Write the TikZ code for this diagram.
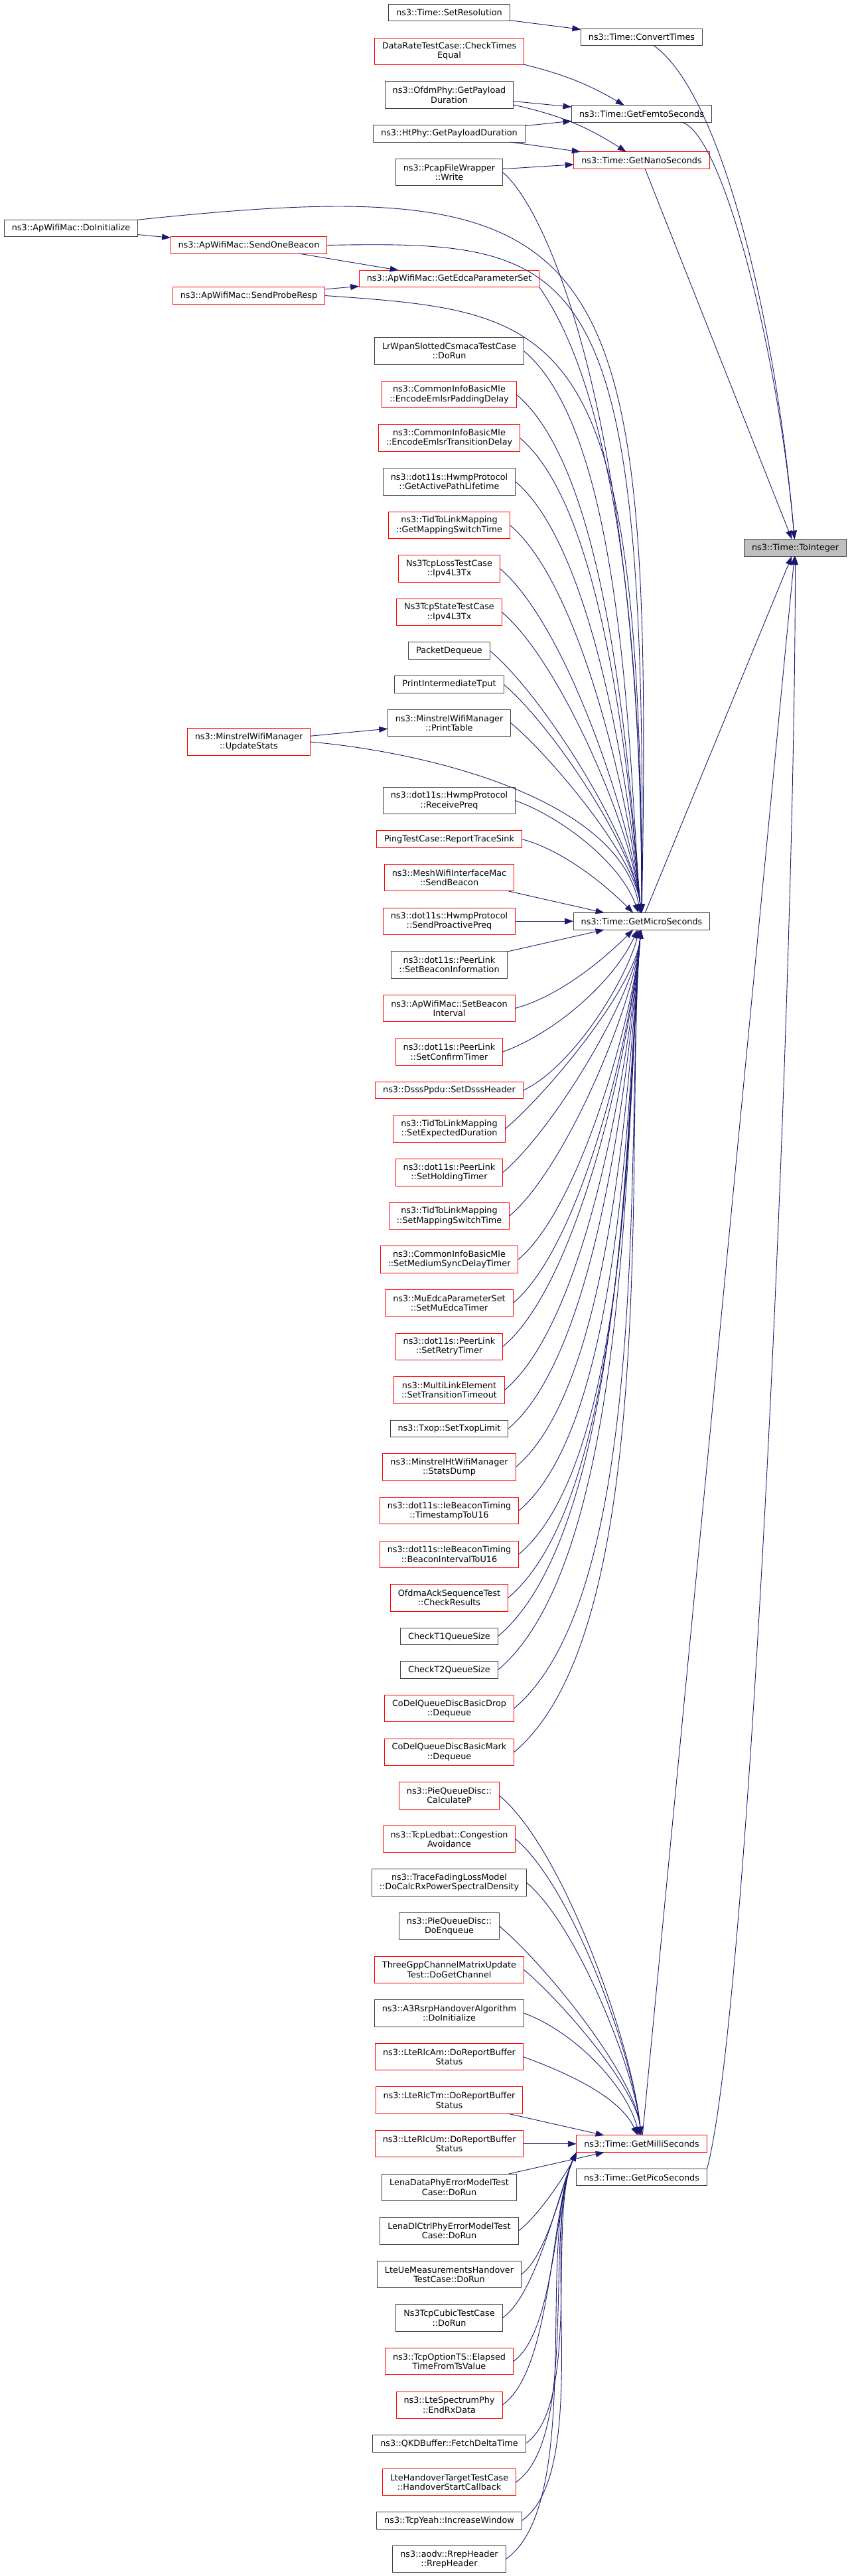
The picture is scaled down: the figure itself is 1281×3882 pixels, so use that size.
\documentclass[tikz,border=0pt]{standalone}
\usepackage{fontspec}
\setmainfont{DejaVu Sans}
\usetikzlibrary{positioning,arrows.meta}
\definecolor{callblue}{HTML}{191970}
\definecolor{boxline}{HTML}{404040}
\newcommand{\boxfont}{\fontsize{3.2}{3.575}\selectfont}
\tikzset{every node/.style={shape=rectangle, draw=boxline, line width=0.25pt, outer sep=0pt, inner xsep=2.875pt, inner ysep=0.25pt, minimum height=6.375pt, align=center, font=\boxfont}}
\tikzset{every edge/.style={draw=callblue, line width=0.225pt, -{Triangle[length=3.25pt,width=2.25pt]}}}
\tikzset{tall/.style={minimum height=10.125pt}}
\tikzset{trunc/.style={draw=red}}
\tikzset{fromabove/.style={out=-40,in=95,looseness=0.6}}
\tikzset{frombelow/.style={out=40,in=-95,looseness=0.6}}
\tikzset{tomilli/.style={out=35,in=-115,looseness=0.6}}
\begin{document}
\begin{tikzpicture}[x=0.25pt, y=0.25pt]
  \useasboundingbox (0,0) rectangle (1281,-3882);

  % callers of the femto / nano group
  \node (SR) at (677,-19) {ns3::Time::SetResolution};
  \node[trunc,tall] (CT) [below=6.325pt of SR] {DataRateTestCase::CheckTimes\\Equal};
  \node[tall] (OP) [below=6.325pt of CT] {ns3::OfdmPhy::GetPayload\\Duration};
  \node (HP) [below=6.325pt of OP] {ns3::HtPhy::GetPayloadDuration};
  \node[tall] (PW) [below=6.325pt of HP] {ns3::PcapFileWrapper\\::Write};

  \node (CV) at (967,-56) {ns3::Time::ConvertTimes};
  \node (FS) at (967,-171.5) {ns3::Time::GetFemtoSeconds};
  \node[trunc] (NS) at (967,-241.5) {ns3::Time::GetNanoSeconds};

  \node (DI) at (107,-344) {ns3::ApWifiMac::DoInitialize};
  \node[trunc] (SB) at (375,-369.5) {ns3::ApWifiMac::SendOneBeacon};
  \node[trunc] (EP) at (677,-420) {ns3::ApWifiMac::GetEdcaParameterSet};
  \node[trunc] (PR) at (375,-445.5) {ns3::ApWifiMac::SendProbeResp};

  \node[fill=black!25] (TI) at (1198.5,-825.5) {ns3::Time::ToInteger};

  % first column block
  \node[tall] (LR) at (677,-529) {LrWpanSlottedCsmacaTestCase\\::DoRun};
  \node[trunc,tall] (PY) [below=6.275pt of LR] {ns3::CommonInfoBasicMle\\::EncodeEmlsrPaddingDelay};
  \node[trunc,tall] (TY) [below=6.275pt of PY] {ns3::CommonInfoBasicMle\\::EncodeEmlsrTransitionDelay};
  \node[tall] (AL) [below=6.275pt of TY] {ns3::dot11s::HwmpProtocol\\::GetActivePathLifetime};
  \node[trunc,tall] (GW) [below=6.275pt of AL] {ns3::TidToLinkMapping\\::GetMappingSwitchTime};
  \node[trunc,tall] (LX) [below=6.275pt of GW] {Ns3TcpLossTestCase\\::Ipv4L3Tx};
  \node[trunc,tall] (SX) [below=6.275pt of LX] {Ns3TcpStateTestCase\\::Ipv4L3Tx};
  \node (PQ) [below=6.275pt of SX] {PacketDequeue};
  \node (IT) [below=6.275pt of PQ] {PrintIntermediateTput};
  \node[tall] (PT) [below=6.275pt of IT] {ns3::MinstrelWifiManager\\::PrintTable};
  \node[trunc,tall] (US) at (375,-1118) {ns3::MinstrelWifiManager\\::UpdateStats};

  % second column block
  \node[tall] (RP) at (677,-1206.5) {ns3::dot11s::HwmpProtocol\\::ReceivePreq};
  \node[trunc] (PG) [below=6.275pt of RP] {PingTestCase::ReportTraceSink};
  \node[trunc,tall] (MB) [below=6.275pt of PG] {ns3::MeshWifiInterfaceMac\\::SendBeacon};
  \node[trunc,tall] (PP) [below=6.275pt of MB] {ns3::dot11s::HwmpProtocol\\::SendProactivePreq};
  \node[tall] (BI) [below=6.275pt of PP] {ns3::dot11s::PeerLink\\::SetBeaconInformation};
  \node[trunc,tall] (BV) [below=6.275pt of BI] {ns3::ApWifiMac::SetBeacon\\Interval};
  \node[trunc,tall] (CF) [below=6.275pt of BV] {ns3::dot11s::PeerLink\\::SetConfirmTimer};
  \node[trunc] (DH) [below=6.275pt of CF] {ns3::DsssPpdu::SetDsssHeader};
  \node[trunc,tall] (ED) [below=6.275pt of DH] {ns3::TidToLinkMapping\\::SetExpectedDuration};
  \node[trunc,tall] (HT) [below=6.275pt of ED] {ns3::dot11s::PeerLink\\::SetHoldingTimer};
  \node[trunc,tall] (SW) [below=6.275pt of HT] {ns3::TidToLinkMapping\\::SetMappingSwitchTime};
  \node[trunc,tall] (MD) [below=6.275pt of SW] {ns3::CommonInfoBasicMle\\::SetMediumSyncDelayTimer};
  \node[trunc,tall] (MT) [below=6.275pt of MD] {ns3::MuEdcaParameterSet\\::SetMuEdcaTimer};
  \node[trunc,tall] (RT) [below=6.275pt of MT] {ns3::dot11s::PeerLink\\::SetRetryTimer};
  \node[trunc,tall] (TT) [below=6.275pt of RT] {ns3::MultiLinkElement\\::SetTransitionTimeout};
  \node (TL) [below=6.275pt of TT] {ns3::Txop::SetTxopLimit};
  \node[trunc,tall] (SD) [below=6.275pt of TL] {ns3::MinstrelHtWifiManager\\::StatsDump};
  \node[trunc,tall] (TS) [below=6.275pt of SD] {ns3::dot11s::IeBeaconTiming\\::TimestampToU16};
  \node[trunc,tall] (BU) [below=6.275pt of TS] {ns3::dot11s::IeBeaconTiming\\::BeaconIntervalToU16};
  \node[trunc,tall] (CR) [below=6.275pt of BU] {OfdmaAckSequenceTest\\::CheckResults};
  \node (QA) [below=6.275pt of CR] {CheckT1QueueSize};
  \node (QB) [below=6.275pt of QA] {CheckT2QueueSize};
  \node[trunc,tall] (CD) [below=6.275pt of QB] {CoDelQueueDiscBasicDrop\\::Dequeue};
  \node[trunc,tall] (CM) [below=6.275pt of CD] {CoDelQueueDiscBasicMark\\::Dequeue};
  \node[trunc,tall] (CP) [below=6.275pt of CM] {ns3::PieQueueDisc::\\CalculateP};
  \node[trunc,tall] (CA) [below=6.275pt of CP] {ns3::TcpLedbat::Congestion\\Avoidance};
  \node[tall] (TF) [below=6.275pt of CA] {ns3::TraceFadingLossModel\\::DoCalcRxPowerSpectralDensity};
  \node[tall] (DE) [below=6.275pt of TF] {ns3::PieQueueDisc::\\DoEnqueue};
  \node[trunc,tall] (GC) [below=6.275pt of DE] {ThreeGppChannelMatrixUpdate\\Test::DoGetChannel};
  \node[tall] (AR) [below=6.275pt of GC] {ns3::A3RsrpHandoverAlgorithm\\::DoInitialize};
  \node[trunc,tall] (RA) [below=6.275pt of AR] {ns3::LteRlcAm::DoReportBuffer\\Status};
  \node[trunc,tall] (RM) [below=6.275pt of RA] {ns3::LteRlcTm::DoReportBuffer\\Status};
  \node[trunc,tall] (RU) [below=6.275pt of RM] {ns3::LteRlcUm::DoReportBuffer\\Status};
  \node[tall] (LD) [below=6.275pt of RU] {LenaDataPhyErrorModelTest\\Case::DoRun};
  \node[tall] (LC) [below=6.275pt of LD] {LenaDlCtrlPhyErrorModelTest\\Case::DoRun};
  \node[tall] (UM) [below=6.275pt of LC] {LteUeMeasurementsHandover\\TestCase::DoRun};
  \node[tall] (CU) [below=6.275pt of UM] {Ns3TcpCubicTestCase\\::DoRun};
  \node[trunc,tall] (TO) [below=6.275pt of CU] {ns3::TcpOptionTS::Elapsed\\TimeFromTsValue};
  \node[trunc,tall] (SP) [below=6.275pt of TO] {ns3::LteSpectrumPhy\\::EndRxData};
  \node (QK) [below=6.275pt of SP] {ns3::QKDBuffer::FetchDeltaTime};
  \node[trunc,tall] (HS) [below=6.275pt of QK] {LteHandoverTargetTestCase\\::HandoverStartCallback};
  \node (YW) [below=6.275pt of HS] {ns3::TcpYeah::IncreaseWindow};
  \node[tall] (RH) [below=6.275pt of YW] {ns3::aodv::RrepHeader\\::RrepHeader};

  \node (MIC) at (PP -| FS) {ns3::Time::GetMicroSeconds};
  \node[trunc] (MIL) at (RU -| FS) {ns3::Time::GetMilliSeconds};
  \node (PIC) [below=6.25pt of MIL] {ns3::Time::GetPicoSeconds};

  % femto, nano, convert
  \path (SR) edge (CV);
  \path (CT) edge[bend left=8] (FS);
  \path (OP) edge (FS);
  \path (OP) edge[bend left=10] (NS);
  \path (HP) edge (FS);
  \path (HP) edge (NS);
  \path (PW) edge (NS);

  % into ToInteger
  \path (CV) edge[out=-35,in=95,out distance=30pt,in distance=87.5pt] (TI);
  \path (FS) edge[out=-12,in=95,out distance=15pt,in distance=75pt] (TI);
  \path (NS) edge (TI);
  \path (MIC) edge (TI);
  \path (MIL) edge (TI);
  \path (PIC.north east) edge[out=75,in=-90,out distance=62.5pt,in distance=162.5pt] (TI);

  % ApWifiMac group
  \path (DI) edge (SB);
  \path (SB) edge (EP);
  \path (PR) edge (EP);
  \path (DI.north east) edge[out=6,in=89,out distance=180pt,in distance=257pt] (MIC);
  \path (SB.east) edge[out=1,in=89.5,out distance=97pt,in distance=249pt] (MIC);
  \path (PR.east) edge[out=-4,in=90,out distance=90pt,in distance=224pt] (MIC);
  \path (EP.south east) edge[out=-55,in=90,out distance=20.5pt,in distance=169pt] (MIC);
  \path (PW.east) edge[out=-40,in=90,out distance=23pt,in distance=182pt] (MIC);

  % into GetMicroSeconds from above
  \path (LR.east) edge[fromabove] (MIC);
  \path (PY.east) edge[fromabove] (MIC);
  \path (TY.east) edge[fromabove] (MIC);
  \path (AL.east) edge[fromabove] (MIC);
  \path (GW.east) edge[fromabove] (MIC);
  \path (LX.east) edge[fromabove] (MIC);
  \path (SX.east) edge[fromabove] (MIC);
  \path (PQ.east) edge[fromabove] (MIC);
  \path (IT.east) edge[fromabove] (MIC);
  \path (PT.east) edge[fromabove] (MIC);
  \path (US) edge (PT);
  \path (US.east) edge[out=-5,in=100,out distance=43.75pt,in distance=43.75pt] (MIC);
  \path (RP.east) edge[out=-20,in=110,looseness=0.8] (MIC);
  \path (PG.east) edge[out=-15,in=135,looseness=0.8] (MIC);
  \path (MB) edge (MIC);
  \path (PP) edge (MIC);

  % into GetMicroSeconds from below
  \path (BI) edge (MIC);
  \path (BV.east) edge[out=15,in=-135,looseness=0.8] (MIC);
  \path (CF.east) edge[out=20,in=-115,looseness=0.8] (MIC);
  \path (DH.east) edge[out=25,in=-105,looseness=0.7] (MIC);
  \path (ED.east) edge[frombelow] (MIC);
  \path (HT.east) edge[frombelow] (MIC);
  \path (SW.east) edge[frombelow] (MIC);
  \path (MD.east) edge[frombelow] (MIC);
  \path (MT.east) edge[frombelow] (MIC);
  \path (RT.east) edge[frombelow] (MIC);
  \path (TT.east) edge[frombelow] (MIC);
  \path (TL.east) edge[frombelow] (MIC);
  \path (SD.east) edge[frombelow] (MIC);
  \path (TS.east) edge[frombelow] (MIC);
  \path (BU.east) edge[frombelow] (MIC);
  \path (CR.east) edge[frombelow] (MIC);
  \path (QA.east) edge[frombelow] (MIC);
  \path (QB.east) edge[frombelow] (MIC);
  \path (CD.east) edge[frombelow] (MIC);
  \path (CM.east) edge[frombelow] (MIC);

  % into GetMilliSeconds
  \path (CP.east) edge[fromabove] (MIL);
  \path (CA.east) edge[fromabove] (MIL);
  \path (TF.east) edge[fromabove] (MIL);
  \path (DE.east) edge[fromabove] (MIL);
  \path (GC.east) edge[fromabove] (MIL);
  \path (AR.east) edge[out=-20,in=105,looseness=0.8] (MIL);
  \path (RA.east) edge[out=-20,in=115,looseness=0.8] (MIL);
  \path (RM) edge (MIL);
  \path (RU) edge (MIL);
  \path (LD) edge (MIL);
  \path (LC.east) edge[tomilli] (MIL.south west);
  \path (UM.east) edge[tomilli] (MIL.south west);
  \path (CU.east) edge[tomilli] (MIL.south west);
  \path (TO.east) edge[tomilli] (MIL.south west);
  \path (SP.east) edge[tomilli] (MIL.south west);
  \path (QK.east) edge[tomilli] (MIL.south west);
  \path (HS.east) edge[tomilli] (MIL.south west);
  \path (YW.east) edge[tomilli] (MIL.south west);
  \path (RH.east) edge[tomilli] (MIL.south west);
\end{tikzpicture}
\end{document}
